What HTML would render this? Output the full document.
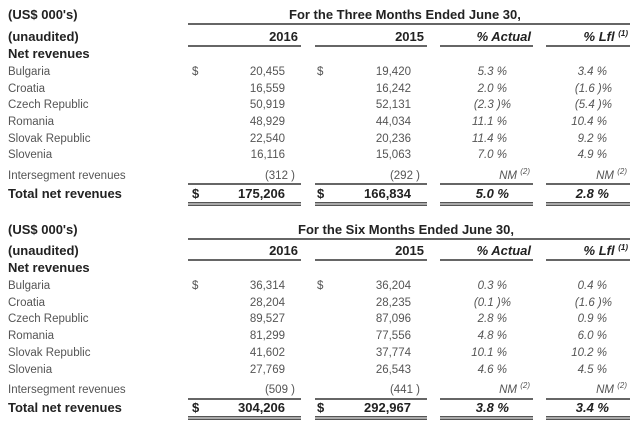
<!DOCTYPE html><html><head><style>
body{margin:0;width:640px;height:428px;background:#fff;position:relative;overflow:hidden;font-family:"Liberation Sans",Arial,sans-serif}
.t{position:absolute;white-space:nowrap;line-height:16px;height:16px}
.b{font-weight:bold;font-size:13px;color:#222}
.n{font-size:11.5px;color:#555}
.i{font-style:italic}
.r{text-align:right}
.l{position:absolute;height:2px;background:#666}
sup{font-size:8px;vertical-align:5px;line-height:0}
</style></head><body>

<!-- TABLE 1 -->
<div class="t b" style="left:8px;top:7px">(US$ 000's)</div>
<div class="t b" style="left:320px;top:7px;width:0"><span style="position:absolute;left:-31px">For the Three Months Ended June 30,</span></div>
<div class="l" style="left:188px;top:23px;width:442px"></div>
<div class="t b" style="left:8px;top:29px">(unaudited)</div>
<div class="t b r" style="right:342px;top:29px">2016</div>
<div class="t b r" style="right:216px;top:29px">2015</div>
<div class="t b r i" style="right:109px;top:29px">% Actual</div>
<div class="t b r i" style="right:12px;top:29px">% Lfl <sup>(1)</sup></div>
<div class="l" style="left:188px;top:45px;width:113px"></div>
<div class="l" style="left:315px;top:45px;width:112px"></div>
<div class="l" style="left:440px;top:45px;width:93px"></div>
<div class="l" style="left:546px;top:45px;width:84px"></div>
<div class="t b" style="left:8px;top:46px">Net revenues</div>

<div class="t n" style="left:8px;top:64px">Bulgaria</div>
<div class="t n" style="left:8px;top:81px">Croatia</div>
<div class="t n" style="left:8px;top:97px">Czech Republic</div>
<div class="t n" style="left:8px;top:114px">Romania</div>
<div class="t n" style="left:8px;top:131px">Slovak Republic</div>
<div class="t n" style="left:8px;top:147px">Slovenia</div>
<div class="t n" style="left:8px;top:168px">Intersegment revenues</div>
<div class="t n" style="left:192px;top:64px">$</div>
<div class="t n" style="left:317px;top:64px">$</div>

<div class="t n r" style="right:355px;top:64px">20,455</div>
<div class="t n r" style="right:355px;top:81px">16,559</div>
<div class="t n r" style="right:355px;top:97px">50,919</div>
<div class="t n r" style="right:355px;top:114px">48,929</div>
<div class="t n r" style="right:355px;top:131px">22,540</div>
<div class="t n r" style="right:355px;top:147px">16,116</div>
<div class="t n r" style="right:345px;top:168px">(312 )</div>

<div class="t n r" style="right:229px;top:64px">19,420</div>
<div class="t n r" style="right:229px;top:81px">16,242</div>
<div class="t n r" style="right:229px;top:97px">52,131</div>
<div class="t n r" style="right:229px;top:114px">44,034</div>
<div class="t n r" style="right:229px;top:131px">20,236</div>
<div class="t n r" style="right:229px;top:147px">15,063</div>
<div class="t n r" style="right:220px;top:168px">(292 )</div>

<div class="t n r i" style="right:133px;top:64px">5.3 %</div>
<div class="t n r i" style="right:133px;top:81px">2.0 %</div>
<div class="t n r i" style="right:129px;top:97px">(2.3 )%</div>
<div class="t n r i" style="right:133px;top:114px">11.1 %</div>
<div class="t n r i" style="right:133px;top:131px">11.4 %</div>
<div class="t n r i" style="right:133px;top:147px">7.0 %</div>
<div class="t n r i" style="right:110px;top:168px">NM <sup>(2)</sup></div>

<div class="t n r i" style="right:33px;top:64px">3.4 %</div>
<div class="t n r i" style="right:28px;top:81px">(1.6 )%</div>
<div class="t n r i" style="right:28px;top:97px">(5.4 )%</div>
<div class="t n r i" style="right:33px;top:114px">10.4 %</div>
<div class="t n r i" style="right:33px;top:131px">9.2 %</div>
<div class="t n r i" style="right:33px;top:147px">4.9 %</div>
<div class="t n r i" style="right:13px;top:168px">NM <sup>(2)</sup></div>

<div class="l" style="left:188px;top:183px;width:113px"></div>
<div class="l" style="left:315px;top:183px;width:112px"></div>
<div class="l" style="left:440px;top:183px;width:93px"></div>
<div class="l" style="left:546px;top:183px;width:84px"></div>
<div class="t b" style="left:8px;top:186px">Total net revenues</div>
<div class="t b" style="left:192px;top:186px">$</div>
<div class="t b r" style="right:355px;top:186px">175,206</div>
<div class="t b" style="left:317px;top:186px">$</div>
<div class="t b r" style="right:229px;top:186px">166,834</div>
<div class="t b r i" style="right:131px;top:186px">5.0 %</div>
<div class="t b r i" style="right:31px;top:186px">2.8 %</div>
<div class="l" style="left:188px;top:202px;width:113px;height:4px;background:linear-gradient(#555 0 1.5px,#fff 1.5px 2.5px,#555 2.5px)"></div>
<div class="l" style="left:315px;top:202px;width:112px;height:4px;background:linear-gradient(#555 0 1.5px,#fff 1.5px 2.5px,#555 2.5px)"></div>
<div class="l" style="left:440px;top:202px;width:93px;height:4px;background:linear-gradient(#555 0 1.5px,#fff 1.5px 2.5px,#555 2.5px)"></div>
<div class="l" style="left:546px;top:202px;width:84px;height:4px;background:linear-gradient(#555 0 1.5px,#fff 1.5px 2.5px,#555 2.5px)"></div>

<!-- TABLE 2 -->
<div class="t b" style="left:8px;top:222px">(US$ 000's)</div>
<div class="t b" style="left:298px;top:222px">For the Six Months Ended June 30,</div>
<div class="l" style="left:188px;top:238px;width:442px"></div>
<div class="t b" style="left:8px;top:243px">(unaudited)</div>
<div class="t b r" style="right:342px;top:243px">2016</div>
<div class="t b r" style="right:216px;top:243px">2015</div>
<div class="t b r i" style="right:109px;top:243px">% Actual</div>
<div class="t b r i" style="right:12px;top:243px">% Lfl <sup>(1)</sup></div>
<div class="l" style="left:188px;top:259px;width:113px"></div>
<div class="l" style="left:315px;top:259px;width:112px"></div>
<div class="l" style="left:440px;top:259px;width:93px"></div>
<div class="l" style="left:546px;top:259px;width:84px"></div>
<div class="t b" style="left:8px;top:260px">Net revenues</div>

<div class="t n" style="left:8px;top:278px">Bulgaria</div>
<div class="t n" style="left:8px;top:295px">Croatia</div>
<div class="t n" style="left:8px;top:311px">Czech Republic</div>
<div class="t n" style="left:8px;top:328px">Romania</div>
<div class="t n" style="left:8px;top:345px">Slovak Republic</div>
<div class="t n" style="left:8px;top:362px">Slovenia</div>
<div class="t n" style="left:8px;top:382px">Intersegment revenues</div>
<div class="t n" style="left:192px;top:278px">$</div>
<div class="t n" style="left:317px;top:278px">$</div>

<div class="t n r" style="right:355px;top:278px">36,314</div>
<div class="t n r" style="right:355px;top:295px">28,204</div>
<div class="t n r" style="right:355px;top:311px">89,527</div>
<div class="t n r" style="right:355px;top:328px">81,299</div>
<div class="t n r" style="right:355px;top:345px">41,602</div>
<div class="t n r" style="right:355px;top:362px">27,769</div>
<div class="t n r" style="right:345px;top:382px">(509 )</div>

<div class="t n r" style="right:229px;top:278px">36,204</div>
<div class="t n r" style="right:229px;top:295px">28,235</div>
<div class="t n r" style="right:229px;top:311px">87,096</div>
<div class="t n r" style="right:229px;top:328px">77,556</div>
<div class="t n r" style="right:229px;top:345px">37,774</div>
<div class="t n r" style="right:229px;top:362px">26,543</div>
<div class="t n r" style="right:220px;top:382px">(441 )</div>

<div class="t n r i" style="right:133px;top:278px">0.3 %</div>
<div class="t n r i" style="right:129px;top:295px">(0.1 )%</div>
<div class="t n r i" style="right:133px;top:311px">2.8 %</div>
<div class="t n r i" style="right:133px;top:328px">4.8 %</div>
<div class="t n r i" style="right:133px;top:345px">10.1 %</div>
<div class="t n r i" style="right:133px;top:362px">4.6 %</div>
<div class="t n r i" style="right:110px;top:382px">NM <sup>(2)</sup></div>

<div class="t n r i" style="right:33px;top:278px">0.4 %</div>
<div class="t n r i" style="right:28px;top:295px">(1.6 )%</div>
<div class="t n r i" style="right:33px;top:311px">0.9 %</div>
<div class="t n r i" style="right:33px;top:328px">6.0 %</div>
<div class="t n r i" style="right:33px;top:345px">10.2 %</div>
<div class="t n r i" style="right:33px;top:362px">4.5 %</div>
<div class="t n r i" style="right:13px;top:382px">NM <sup>(2)</sup></div>

<div class="l" style="left:188px;top:398px;width:113px"></div>
<div class="l" style="left:315px;top:398px;width:112px"></div>
<div class="l" style="left:440px;top:398px;width:93px"></div>
<div class="l" style="left:546px;top:398px;width:84px"></div>
<div class="t b" style="left:8px;top:400px">Total net revenues</div>
<div class="t b" style="left:192px;top:400px">$</div>
<div class="t b r" style="right:355px;top:400px">304,206</div>
<div class="t b" style="left:317px;top:400px">$</div>
<div class="t b r" style="right:229px;top:400px">292,967</div>
<div class="t b r i" style="right:131px;top:400px">3.8 %</div>
<div class="t b r i" style="right:31px;top:400px">3.4 %</div>
<div class="l" style="left:188px;top:416px;width:113px;height:4px;background:linear-gradient(#555 0 1.5px,#fff 1.5px 2.5px,#555 2.5px)"></div>
<div class="l" style="left:315px;top:416px;width:112px;height:4px;background:linear-gradient(#555 0 1.5px,#fff 1.5px 2.5px,#555 2.5px)"></div>
<div class="l" style="left:440px;top:416px;width:93px;height:4px;background:linear-gradient(#555 0 1.5px,#fff 1.5px 2.5px,#555 2.5px)"></div>
<div class="l" style="left:546px;top:416px;width:84px;height:4px;background:linear-gradient(#555 0 1.5px,#fff 1.5px 2.5px,#555 2.5px)"></div>
</body></html>
